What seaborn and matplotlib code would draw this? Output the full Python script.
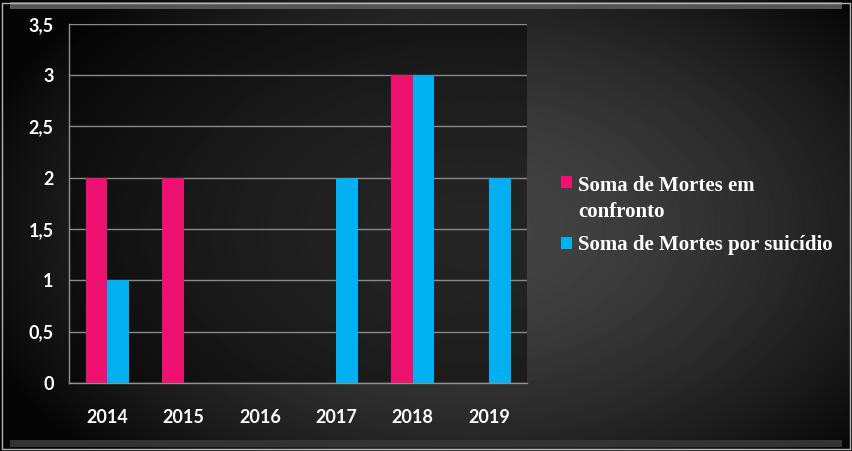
import numpy as np
import pandas as pd
import matplotlib
matplotlib.use("Agg")
import matplotlib.pyplot as plt
from matplotlib.patches import Rectangle
import seaborn as sns

# ── Data ───────────────────────────────────────────────
years = ["2014", "2015", "2016", "2017", "2018", "2019"]
confronto = [2, 2, 0, 0, 3, 0]
suicidio = [1, 0, 0, 2, 3, 2]
series_names = ["Soma de Mortes em\nconfronto", "Soma de Mortes por suicídio"]
y_ticks = [0, 0.5, 1, 1.5, 2, 2.5, 3, 3.5]
y_labels = ["0", "0,5", "1", "1,5", "2", "2,5", "3", "3,5"]

PINK = "#ED1170"
CYAN = "#00B0F0"

df = pd.DataFrame({
    "Ano": years * 2,
    "Mortes": confronto + suicidio,
    "Serie": [series_names[0]] * len(years) + [series_names[1]] * len(years),
})

sns.set_style("dark")
plt.rcParams["font.family"] = ["Lato", "DejaVu Sans"]

fig = plt.figure(figsize=(8.52, 4.51), dpi=100)

# ── Background (dark radial gradient) ─────────────────
bg = fig.add_axes([0, 0, 1, 1], zorder=0)
yy, xx = np.mgrid[0:451, 0:852]
r = np.sqrt(((xx - 470) / 520) ** 2 + ((yy - 230) / 330) ** 2)
shade = np.clip(0.27 - 0.25 * r ** 1.6, 0.02, 0.3)
# light bevel strip along the top and bottom edges
shade[2:9, 10:842] = np.maximum(shade[2:9, 10:842], 0.33)
shade[440:447, 10:842] = np.maximum(shade[440:447, 10:842], 0.2)
bg.imshow(shade, cmap="gray", vmin=0, vmax=1, aspect="auto", extent=[0, 1, 0, 1])
bg.set_axis_off()
fig.patches.append(Rectangle((0.002, 0.004), 0.996, 0.99, transform=fig.transFigure,
                             fill=False, edgecolor="#b5b5b5", linewidth=1.0, zorder=5))

# ── Bars ───────────────────────────────────────────────
ax = fig.add_axes([0.081, 0.151, 0.538, 0.796], zorder=1)
ax.set_facecolor((0, 0, 0, 0.45))
sns.barplot(data=df, x="Ano", y="Mortes", hue="Serie", order=years,
            palette=[PINK, CYAN], width=0.56, gap=0, saturation=1,
            edgecolor="none", ax=ax, zorder=3)

ax.set_ylim(0, 3.5)
ax.set_xlim(-0.5, len(years) - 0.5)
ax.set_yticks(y_ticks)
ax.set_yticklabels(y_labels)
ax.set_xticks(range(len(years)))
ax.set_xticks(np.arange(-0.5, len(years)), minor=True)
ax.tick_params(axis="x", which="major", length=0, pad=19, labelsize=13, labelcolor="white")
ax.tick_params(axis="x", which="minor", length=6, color="#909090", direction="out")
ax.tick_params(axis="y", length=6, color="#909090", direction="out", pad=5,
               labelsize=13, labelcolor="white")
for lbl in ax.get_xticklabels() + ax.get_yticklabels():
    lbl.set_fontweight("bold")

ax.grid(axis="y", color="#8a8a8a", linewidth=1.0, zorder=1)
ax.grid(axis="x", visible=False)
for side in ["top", "right"]:
    ax.spines[side].set_visible(False)
for side in ["left", "bottom"]:
    ax.spines[side].set_visible(True)
    ax.spines[side].set_color("#909090")
    ax.spines[side].set_linewidth(1.0)
ax.set_xlabel("")
ax.set_ylabel("")

# ── Legend ─────────────────────────────────────────────
handles, labels = ax.get_legend_handles_labels()
leg = ax.legend(handles, labels, loc="center left", bbox_to_anchor=(0.637, 0.522),
                bbox_transform=fig.transFigure, frameon=False, handlelength=0.5,
                handleheight=0.5, handletextpad=0.3, labelspacing=0.65,
                prop={"family": "Liberation Serif", "weight": "bold", "size": 15},
                labelcolor="white")
for t in leg.get_texts():
    t.set_linespacing(1.4)
# put the marker of the two-line entry next to its first line
rows = leg._legend_handle_box.get_children()[0].get_children()
rows[0].align = "top"

fig.savefig("out.png", dpi=100)
